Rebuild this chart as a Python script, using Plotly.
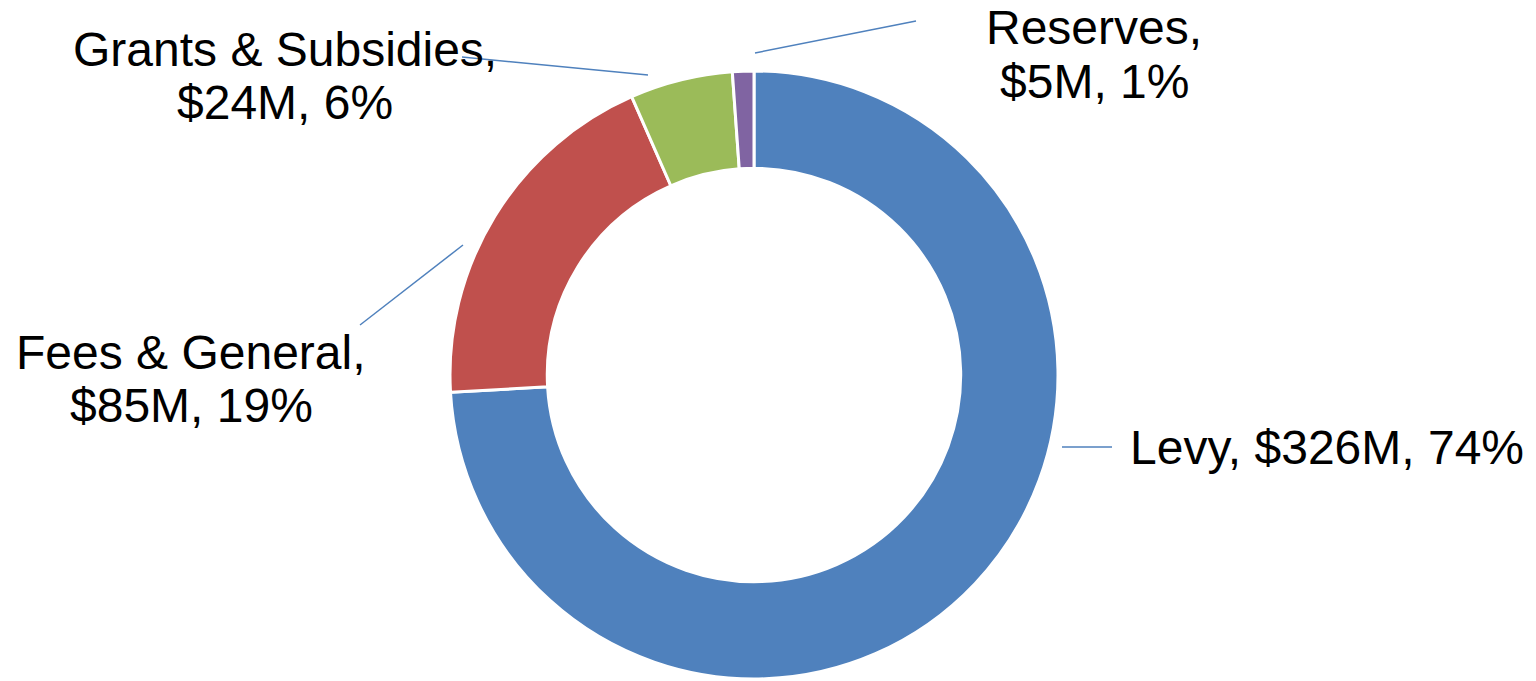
import plotly.graph_objects as go

# ---- data ----
categories = ["Levy", "Fees & General", "Grants & Subsidies", "Reserves"]
values_musd = [326, 85, 24, 5]
pct_labels = ["74%", "19%", "6%", "1%"]
colors = ["#4F81BD", "#C0504D", "#9BBB59", "#8064A2"]

W, H = 1536, 681

def px(x):
    return x / W

def py(y):
    return 1 - y / H

# label layout (pixel positions): list of (x, y) per text line, anchor
label_layout = {
    "Levy": {"lines": [(1128, 447)], "xanchor": "left", "split": False},
    "Fees & General": {"lines": [(191, 352), (191, 405)], "xanchor": "center", "split": True},
    "Grants & Subsidies": {"lines": [(285, 49), (285, 102)], "xanchor": "center", "split": True},
    "Reserves": {"lines": [(1094, 28), (1094, 81)], "xanchor": "center", "split": True},
}
leader_lines = {
    "Levy": ((1062, 447), (1112, 447)),
    "Fees & General": ((360, 325), (463, 245)),
    "Grants & Subsidies": ((462, 57), (648, 75)),
    "Reserves": ((755, 53), (916, 21)),
}

fig = go.Figure()
fig.add_trace(go.Pie(
    labels=categories,
    values=values_musd,
    hole=0.68,
    sort=False,
    direction="clockwise",
    rotation=0,
    marker=dict(colors=colors, line=dict(color="white", width=3)),
    textinfo="none",
    hoverinfo="label+value+percent",
    domain=dict(x=[px(450), px(1058)], y=[py(679), py(71)]),
    showlegend=False,
))

font = dict(family="Liberation Sans, Arial, sans-serif", size=48, color="black")
annotations = []
shapes = []
for cat, val, pct in zip(categories, values_musd, pct_labels):
    lay = label_layout[cat]
    if lay["split"]:
        texts = [f"{cat},", f"${val}M, {pct}"]
    else:
        texts = [f"{cat}, ${val}M, {pct}"]
    for t, (x, y) in zip(texts, lay["lines"]):
        annotations.append(dict(
            text=t, x=px(x), y=py(y), xref="paper", yref="paper",
            xanchor=lay["xanchor"], yanchor="middle", showarrow=False, font=font,
        ))
    (x0, y0), (x1, y1) = leader_lines[cat]
    shapes.append(dict(
        type="line", xref="paper", yref="paper",
        x0=px(x0), y0=py(y0), x1=px(x1), y1=py(y1),
        line=dict(color="#4F81BD", width=1.5),
    ))

fig.update_layout(
    width=W, height=H,
    margin=dict(l=0, r=0, t=0, b=0),
    paper_bgcolor="white",
    plot_bgcolor="white",
    annotations=annotations,
    shapes=shapes,
)

fig.write_html(
    "out.html",
    config={"displayModeBar": False},
    post_script="document.body.style.margin='0';document.body.style.overflow='hidden';",
)
